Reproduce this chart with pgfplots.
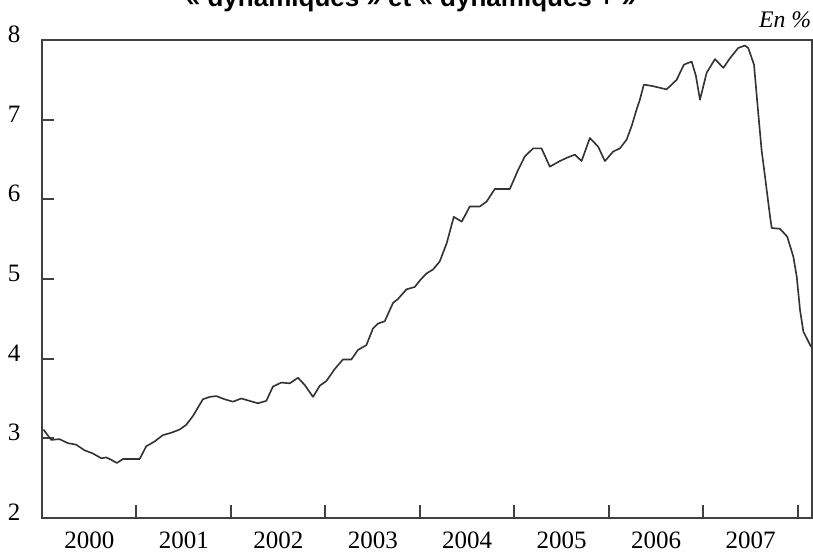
\documentclass[border=0pt]{standalone}
\usepackage{fontspec}
\setmainfont{Liberation Serif}
\newfontfamily\titlefont{Liberation Sans}
\usepackage{pgfplots}
\pgfplotsset{compat=1.18}
\definecolor{axisgray}{HTML}{404040}
\definecolor{linegray}{HTML}{333333}
\begin{document}
\begin{tikzpicture}
\begin{axis}[
  at={(0,0)}, anchor=south west,
  scale only axis, width=307.9pt, height=191.2pt,
  xmin=2000, xmax=2008.146, ymin=2, ymax=8,
  axis line style={draw=axisgray, line width=0.8pt},
  xtick={2001,2002,2003,2004,2005,2006,2007,2008},
  xticklabels={2000,2001,2002,2003,2004,2005,2006,2007},
  ytick={2,3,4,5,6,7,8},
  xtick pos=bottom, ytick pos=left,
  tick align=inside,
  major tick length=5pt,
  tick style={draw=axisgray, line width=0.8pt},
  minor tick num=0,
  font=\fontsize{10}{12}\selectfont,
  ticklabel style={font=\fontsize{10}{12}\selectfont},
  /pgf/number format/assume math mode=true,
  xticklabel style={inner sep=0pt, anchor=north, yshift=-5.4pt, xshift=-18.89pt},
  yticklabel style={inner sep=0pt, anchor=east, xshift=-8.4pt, yshift=2.2pt},
]
\addplot[linegray, line width=0.65pt, line join=round] coordinates {
(2000.016,3.11) (2000.097,2.98) (2000.185,2.99) (2000.273,2.94) (2000.362,2.92)
(2000.450,2.85) (2000.538,2.81) (2000.627,2.75) (2000.680,2.76) (2000.733,2.73)
(2000.792,2.69) (2000.856,2.74) (2001.033,2.74) (2001.103,2.90) (2001.191,2.96)
(2001.279,3.04) (2001.368,3.07) (2001.456,3.11) (2001.527,3.17) (2001.597,3.28)
(2001.703,3.49) (2001.774,3.52) (2001.845,3.53) (2001.933,3.49) (2002.021,3.46)
(2002.109,3.50) (2002.197,3.47) (2002.285,3.44) (2002.374,3.47) (2002.444,3.65)
(2002.533,3.70) (2002.621,3.69) (2002.709,3.76) (2002.780,3.67) (2002.868,3.52)
(2002.939,3.66) (2003.010,3.72) (2003.098,3.87) (2003.185,3.99) (2003.274,3.99)
(2003.344,4.11) (2003.433,4.17) (2003.503,4.38) (2003.556,4.44) (2003.627,4.47)
(2003.715,4.70) (2003.768,4.75) (2003.857,4.87) (2003.945,4.90) (2003.998,4.98)
(2004.069,5.07) (2004.139,5.12) (2004.209,5.22) (2004.283,5.45) (2004.358,5.78)
(2004.442,5.72) (2004.527,5.91) (2004.633,5.91) (2004.704,5.97) (2004.792,6.13)
(2004.951,6.13) (2005.039,6.37) (2005.110,6.54) (2005.198,6.64) (2005.286,6.64)
(2005.374,6.41) (2005.480,6.48) (2005.551,6.52) (2005.639,6.56) (2005.710,6.48)
(2005.798,6.77) (2005.886,6.66) (2005.957,6.48) (2006.045,6.60) (2006.116,6.64)
(2006.187,6.75) (2006.240,6.92) (2006.293,7.13) (2006.327,7.25) (2006.369,7.44)
(2006.468,7.42) (2006.610,7.38) (2006.716,7.50) (2006.793,7.69) (2006.875,7.73)
(2006.920,7.55) (2006.963,7.25) (2007.034,7.59) (2007.122,7.76) (2007.210,7.65)
(2007.280,7.77) (2007.368,7.90) (2007.439,7.93) (2007.474,7.90) (2007.535,7.69)
(2007.580,7.08) (2007.615,6.62) (2007.651,6.29) (2007.704,5.79) (2007.722,5.64)
(2007.810,5.63) (2007.887,5.53) (2007.951,5.28) (2007.987,5.03) (2008.022,4.61)
(2008.057,4.34) (2008.138,4.15)
};
\end{axis}
\node[anchor=base east, inner sep=0pt, font=\itshape\fontsize{9.5}{11}\selectfont] at (307.9pt,196pt) {En \%};
\node[anchor=base, inner sep=0pt, font=\titlefont\bfseries\fontsize{10.4}{12}\selectfont] at (147.6pt,204.4pt) {« dynamiques » et « dynamiques + »};
\pgfresetboundingbox
\useasboundingbox (-16.8pt,-14.4pt) rectangle (308.4pt,207.2pt);
\end{tikzpicture}
\end{document}
